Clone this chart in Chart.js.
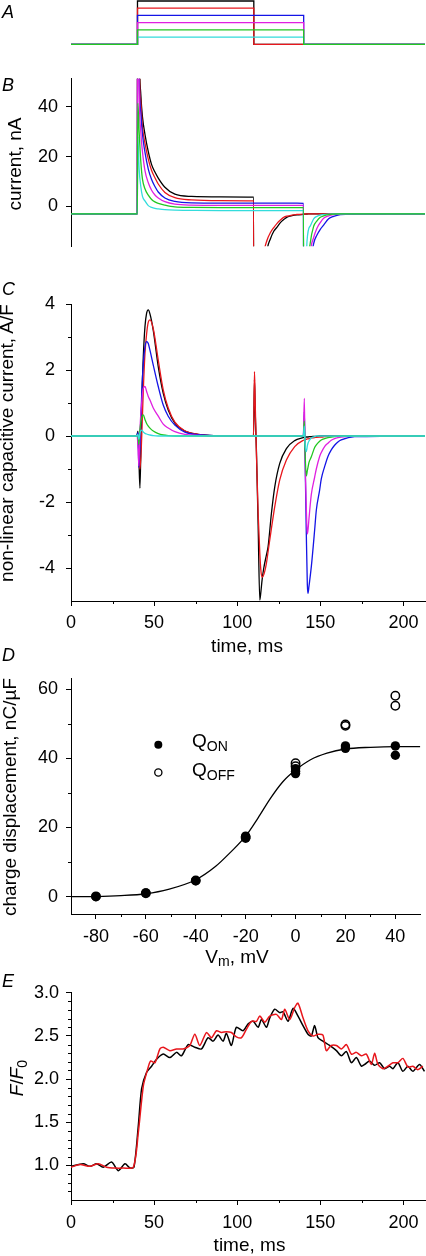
<!DOCTYPE html>
<html>
<head>
<meta charset="utf-8">
<script src="https://cdn.jsdelivr.net/npm/chart.js@4.4.1/dist/chart.umd.min.js"></script>
<style>
  html, body { margin: 0; padding: 0; background: #fff; }
  body { width: 426px; height: 1256px; position: relative; overflow: hidden;
         font-family: "Liberation Sans", Arial, sans-serif; color: #000; }
  canvas { position: absolute; left: 0; }
  .txt { position: absolute; font-size: 19px; white-space: nowrap; line-height: normal; z-index: 2; }
  .rot { transform: translate(-50%, -50%) rotate(-90deg); }
  .hor { transform: translate(-50%, -50%); }
  .letter { position: absolute; left: 2px; font-size: 18px; font-style: italic; line-height: 1; z-index: 2; }
  .leg { position: absolute; left: 192px; font-size: 19px; line-height: 1; white-space: nowrap; z-index: 2; }
  .sb { position: relative; top: 0.25em; font-size: 0.74em; }
</style>
</head>
<body>
<canvas id="chartA" width="426" height="50" style="top:0px"></canvas>
<canvas id="chartB" width="426" height="205" style="top:60px"></canvas>
<canvas id="chartC" width="426" height="387" style="top:270px"></canvas>
<canvas id="chartD" width="426" height="310" style="top:660px"></canvas>
<canvas id="chartE" width="426" height="281" style="top:975px"></canvas>

<div class="letter" style="top:3px">A</div>
<div class="letter" style="top:76px">B</div>
<div class="letter" style="top:280px">C</div>
<div class="letter" style="top:646px">D</div>
<div class="letter" style="top:972px">E</div>

<div class="txt rot" style="left:15px; top:163.5px">current, nA</div>
<div class="txt rot" style="left:7px; top:443px">non-linear capacitive current, A/F</div>
<div class="txt hor" style="left:247px; top:646px">time, ms</div>
<div class="txt rot" style="left:9.5px; top:797px">charge displacement, nC/µF</div>
<div class="txt hor" style="left:237px; top:956.5px">V<span class="sb">m</span>, mV</div>
<div class="txt rot" style="left:17px; top:1077.5px"><i>F</i>/<i>F</i><span class="sb">0</span></div>
<div class="txt hor" style="left:249.5px; top:1245px">time, ms</div>

<div class="leg" style="top:731px">Q<span class="sb">ON</span></div>
<div class="leg" style="top:760px">Q<span class="sb">OFF</span></div>

<script>
  // ---- Panel A: voltage protocol, mV ----
  const tA = [0, 40, 110, 140, 213];
  const aBlack = [-80, 40, -80, -80, -80];
  const aRed = [-80, 20, -80, -80, -80];
  const aBlue = [-80, 0, 0, -80, -80];
  const aMagenta = [-80, -20, -20, -80, -80];
  const aGreen = [-80, -40, -40, -80, -80];
  const aCyan = [-80, -60, -60, -80, -80];

  // ---- Panel B: membrane current, nA ----
  const tB = [0, 39.9, 40.2, 41, 42, 43, 44.5, 46.5, 48.5, 50.5,
              52.5, 56.5, 62.5, 72.5, 90, 109.9, 110.1, 114, 116, 118,
              120, 122, 124, 126, 128, 130, 133, 136, 139.9, 140.1,
              142, 144, 146, 148, 150, 152, 155, 158, 162, 170, 213];
  const bBlack = [-3, -3, 200, 70, 45, 36, 29, 22, 16.8, 13.8,
                  11.4, 7.7, 4.9, 4.0, 3.8, 3.7, -200, -60, -30, -17.5,
                  -13, -10, -8.3, -6.5, -5.3, -4.3, -3.7, -3.4, -3.2, -3.1,
                  -3.05, -3, -3, -3, -3, -3, -3, -3, -3, -3, -3];
  const bRed = [-3, -3, 180, 62, 42, 32, 25.4, 19, 14.4, 11.5,
                9, 5.6, 3.5, 2.6, 2.3, 2.2, -200, -35, -19, -13.5,
                -10.5, -8.5, -6.8, -5.5, -4.4, -3.9, -3.5, -3.2, -3.1, -3.05,
                -3, -3, -3, -3, -3, -3, -3, -3, -3, -3, -3];
  const bBlue = [-3, -3, 150, 55, 38, 29, 21.8, 15, 10.8, 8,
                 5.8, 3.4, 2.0, 1.4, 1.3, 1.3, 1.3, 1.3, 1.3, 1.3,
                 1.3, 1.3, 1.3, 1.3, 1.3, 1.3, 1.3, 1.3, 1.25, -150,
                 -60, -25, -15, -11.5, -9.2, -7.5, -5, -4.0, -3.3, -3.05, -3];
  const bMagenta = [-3, -3, 120, 48, 30, 22, 14.4, 9.5, 6.5, 4.6,
                    3.4, 1.9, 0.9, 0.5, 0.4, 0.4, 0.4, 0.4, 0.4, 0.4,
                    0.4, 0.4, 0.4, 0.4, 0.4, 0.4, 0.4, 0.4, 0.4, -120,
                    -45, -19, -12.5, -8.8, -6.5, -4.8, -3.8, -3.3, -3.1, -3, -3];
  const bGreen = [-3, -3, 41.5, 30, 18, 11, 7.1, 4.5, 2.8, 1.8,
                  1.2, 0.5, -0.2, -0.4, -0.5, -0.5, -0.5, -0.5, -0.5, -0.5,
                  -0.5, -0.5, -0.5, -0.5, -0.5, -0.5, -0.5, -0.5, -0.5, -100,
                  -30, -14.5, -8, -5.8, -4.4, -3.8, -3.3, -3.1, -3, -3, -3];
  const bCyan = [-3, -3, 28, 15, 8, 4, 2.2, 0.3, -0.4, -0.8,
                 -1.0, -1.3, -1.5, -1.6, -1.7, -1.7, -1.7, -1.7, -1.7, -1.7,
                 -1.7, -1.7, -1.7, -1.7, -1.7, -1.7, -1.7, -1.7, -1.7, -80,
                 -14, -7.8, -5, -4, -3.5, -3.3, -3.1, -3, -3, -3, -3];

  // ---- Panel C: non-linear capacitive current, A/F ----
  const tC = [0, 39.5, 40.3, 40.8, 41.5, 42.5, 43.5, 44.5, 45.5, 46.5,
              47.5, 49.5, 52.5, 55.5, 58.5, 62.5, 68.5, 76.5, 86, 109.8,
              110.4, 110.8, 111.6, 112.6, 113.6, 114.3, 115, 116, 117.6, 118.6,
              120.6, 122.6, 125.6, 129.6, 134.6, 139.8, 140.4, 140.8, 141.6, 142.2,
              142.6, 143.2, 144.6, 146.6, 147.6, 149.6, 150.6, 152.6, 154.6, 156.6,
              158.6, 160.6, 162.6, 170.6, 213];
  const cBlack = [0, 0, 0.15, -0.6, -1.58, 0.9, 2.4, 3.31, 3.72, 3.82,
                  3.7, 3.2, 2.1, 1.29, 0.79, 0.39, 0.15, 0.05, 0.01, 0,
                  1.7, 0.8, -0.5, -2.7, -4.97, -4.7, -4.35, -4.0, -3.6, -3.35,
                  -2.34, -1.54, -0.83, -0.38, -0.14, -0.05, -0.04, -0.04, -0.03, -0.03,
                  -0.03, -0.02, -0.02, -0.01, -0.01, 0, 0, 0, 0, 0,
                  0, 0, 0, 0, 0];
  const cRed = [0, 0, 0.05, -0.5, -1.0, -0.1, 1.38, 2.5, 3.1, 3.45,
                3.52, 3.25, 2.3, 1.4, 0.85, 0.42, 0.16, 0.05, 0.01, 0,
                1.95, 1.1, -0.6, -2.34, -3.55, -4.1, -4.28, -4.2, -3.85, -3.5,
                -2.8, -2.14, -1.33, -0.73, -0.32, -0.13, -0.12, -0.11, -0.1, -0.09,
                -0.09, -0.08, -0.06, -0.05, -0.04, -0.03, -0.03, -0.02, -0.01, -0.01,
                0, 0, 0, 0, 0];
  const cBlue = [0, 0, 0.1, -0.95, -0.3, 1.2, 2.2, 2.7, 2.86, 2.8,
                 2.6, 2.15, 1.5, 0.94, 0.6, 0.33, 0.12, 0.04, 0.01, 0,
                 0, 0, 0, 0, 0, 0, 0, 0, 0, 0,
                 0, 0, 0, 0, 0, 0, 0.74, -0.5, -3.0, -4.5,
                 -4.77, -4.55, -3.96, -2.85, -2.25, -1.64, -1.3, -0.93, -0.62, -0.42,
                 -0.28, -0.18, -0.12, -0.02, 0];
  const cMagenta = [0, 0, -0.3, -0.9, 0.2, 1.0, 1.45, 1.5, 1.35, 1.2,
                    1.09, 0.85, 0.6, 0.36, 0.24, 0.13, 0.05, 0.02, 0, 0,
                    0, 0, 0, 0, 0, 0, 0, 0, 0, 0,
                    0, 0, 0, 0, 0, 0, 1.14, -0.5, -2.2, -2.97,
                    -2.85, -2.5, -1.77, -1.25, -1.0, -0.62, -0.5, -0.32, -0.22, -0.13,
                    -0.08, -0.05, -0.03, 0, 0];
  const cGreen = [0, 0, 0, -0.25, 0.2, 0.55, 0.64, 0.5, 0.38, 0.3,
                  0.24, 0.15, 0.07, 0.03, 0.01, 0, 0, 0, 0, 0,
                  0, 0, 0, 0, 0, 0, 0, 0, 0, 0,
                  0, 0, 0, 0, 0, 0, 0.45, -0.4, -1.21, -1.05,
                  -0.95, -0.8, -0.63, -0.35, -0.27, -0.16, -0.12, -0.08, -0.05, -0.03,
                  -0.02, 0, 0, 0, 0];
  const cCyan = [0, 0, 0.05, -0.1, 0.1, 0.18, 0.12, 0.08, 0.06, 0.04,
                 0.03, 0.01, 0, 0, 0, 0, 0, 0, 0, 0,
                 0, 0, 0, 0, 0, 0, 0, 0, 0, 0,
                 0, 0, 0, 0, 0, 0, 0.3, -0.2, -0.47, -0.3,
                 -0.22, -0.15, -0.06, -0.02, 0, 0, 0, 0, 0, 0,
                 0, 0, 0, 0, 0];

  // ---- Panel D: charge vs voltage ----
  const qonV = [-80, -60, -40, -20, -20, 0, 0, 0, 20, 20, 40, 40];
  const qonQ = [0, 1.1, 4.6, 17.5, 16.9, 37.0, 36.3, 35.6, 43.6, 42.9, 43.6, 40.9];
  const qoffV = [-80, -60, -40, -20, 0, 0, 20, 20, 40, 40];
  const qoffQ = [0.1, 1.0, 4.7, 17.2, 38.6, 37.7, 49.8, 49.4, 58.1, 55.2];
  const fitV = [-90, -80, -70, -60, -51, -40, -32, -26, -20, -15, -10, -5, 0, 6, 12.6, 20, 30, 40, 50];
  const fitQ = [0, 0.05, 0.3, 0.85, 2.1, 4.9, 8.8, 12.9, 17.5, 22.8, 28.5, 33.3, 36.6, 39.6, 41.5, 42.7, 43.2, 43.4, 43.4];

  // ---- Panel E: fluorescence F/F0 ----
  const eBlackT = [0, 7.4, 11.4, 15.4, 19.4, 24.4, 28.4, 32.5, 35.5, 37.9,
                   40.5, 42.5, 45.5, 48.5, 51.5, 55.5, 59.5, 63.5, 66.5, 70.5,
                   74.5, 78.5, 82.5, 85.5, 88.5, 91.5, 93.5, 96.5, 99.5, 103.5,
                   106.6, 109.6, 112.6, 114.6, 117.6, 119.6, 122.6, 125.6, 127.6, 130.6,
                   133.6, 136.6, 139.6, 142.6, 144.6, 146.6, 148.6, 151.6, 155.6, 159.7,
                   162.7, 165.7, 168.7, 171.7, 174.7, 176.7, 179.7, 182.7, 185.7, 188.7,
                   191.7, 193.7, 196.7, 199.7, 202.7, 205.7, 209.7, 212.7];
  const eBlackF = [0.99, 1.02, 0.99, 1.02, 0.98, 1.04, 0.94, 1.02, 0.97, 0.98,
                   1.46, 1.89, 2.08, 2.15, 2.23, 2.29, 2.25, 2.31, 2.27, 2.40,
                   2.37, 2.35, 2.48, 2.44, 2.51, 2.44, 2.53, 2.39, 2.60, 2.56,
                   2.64, 2.67, 2.60, 2.69, 2.60, 2.71, 2.81, 2.77, 2.78, 2.67,
                   2.82, 2.73, 2.62, 2.52, 2.50, 2.62, 2.48, 2.44, 2.39, 2.33,
                   2.27, 2.32, 2.19, 2.25, 2.15, 2.17, 2.21, 2.16, 2.19, 2.12,
                   2.15, 2.12, 2.19, 2.09, 2.15, 2.09, 2.17, 2.09];
  const eRedT = [0, 5.4, 11.4, 16.4, 21.4, 26.4, 31.4, 37.5, 40.5, 43.5,
                 45.9, 47.9, 50.5, 53.5, 55.5, 59.5, 63.5, 67.5, 71.5, 74.5,
                 77.5, 81.5, 84.5, 87.5, 90.5, 93.5, 96.5, 99.5, 102.6, 105.6,
                 108.6, 111.6, 113.6, 116.6, 119.6, 123.6, 126.6, 128.6, 131.6, 134.6,
                 136.6, 139.6, 142.6, 145.6, 148.6, 151.6, 153.6, 156.6, 159.7, 162.7,
                 165.7, 168.7, 171.7, 174.7, 177.7, 180.7, 182.7, 184.7, 187.7, 190.7,
                 193.7, 196.7, 199.7, 202.7, 205.7, 208.7, 211.7];
  const eRedF = [0.98, 1.01, 0.99, 1.02, 0.98, 0.97, 0.97, 0.98, 1.38, 1.92,
                 2.10, 2.21, 2.19, 2.35, 2.37, 2.33, 2.35, 2.35, 2.39, 2.52,
                 2.39, 2.54, 2.48, 2.56, 2.54, 2.55, 2.54, 2.49, 2.48, 2.58,
                 2.67, 2.67, 2.73, 2.66, 2.73, 2.75, 2.69, 2.81, 2.69, 2.83,
                 2.88, 2.71, 2.56, 2.50, 2.52, 2.51, 2.33, 2.39, 2.39, 2.35,
                 2.40, 2.29, 2.31, 2.27, 2.29, 2.17, 2.30, 2.17, 2.12, 2.15,
                 2.19, 2.19, 2.24, 2.14, 2.15, 2.11, 2.15];

  // ---- tick values ----
  const timeTicks = [0, 50, 100, 150, 200];
  const timeMinor = [25, 75, 125, 175];
  const bTicks = [0, 20, 40];
  const cTicks = [-4, -2, 0, 2, 4];
  const cMinor = [-3, -1, 1, 3];
  const dxTicks = [-80, -60, -40, -20, 0, 20, 40];
  const dxMinor = [-70, -50, -30, -10, 10, 30];
  const dyTicks = [0, 20, 40, 60];
  const dyMinor = [10, 30, 50];
  const eTicks = [1.0, 1.5, 2.0, 2.5, 3.0];
  const eMinor = [0.7, 0.8, 0.9, 1.1, 1.2, 1.3, 1.4, 1.6, 1.7, 1.8, 1.9,
                  2.1, 2.2, 2.3, 2.4, 2.6, 2.7, 2.8, 2.9];

  const COLORS = {
    black: '#000000', red: '#e8161c', blue: '#1414e6',
    magenta: '#e020e0', green: '#22c822', cyan: '#33dcdc'
  };

  Chart.defaults.font.family = '"Liberation Sans", Arial, sans-serif';
  Chart.defaults.font.size = 18;
  Chart.defaults.color = '#000';
  Chart.defaults.animation = false;
  Chart.defaults.responsive = false;
  Chart.defaults.plugins.legend.display = false;
  Chart.defaults.plugins.tooltip.enabled = false;

  // zip two arrays into {x, y} points
  function pts(xs, ys) {
    return xs.map((x, i) => ({ x: x, y: ys[i] }));
  }

  function trace(xs, ys, color, extra) {
    return Object.assign({
      data: pts(xs, ys),
      borderColor: color,
      backgroundColor: color,
      borderWidth: 1.3,
      showLine: true,
      pointRadius: 0,
      cubicInterpolationMode: 'monotone'
    }, extra || {});
  }

  // small minor tick marks, drawn with the chart's own scales
  const minorTicks = {
    id: 'minorTicks',
    afterDraw(chart, args, opts) {
      const ctx = chart.ctx;
      ctx.save();
      ctx.strokeStyle = '#000';
      ctx.lineWidth = 1;
      const sx = chart.scales.x, sy = chart.scales.y;
      (opts.x || []).forEach(v => {
        const px = Math.round(sx.getPixelForValue(v)) + 0.5;
        ctx.beginPath();
        ctx.moveTo(px, sx.top);
        ctx.lineTo(px, sx.top + 3);
        ctx.stroke();
      });
      (opts.y || []).forEach(v => {
        const py = Math.round(sy.getPixelForValue(v)) + 0.5;
        ctx.beginPath();
        ctx.moveTo(sy.right, py);
        ctx.lineTo(sy.right - 3, py);
        ctx.stroke();
      });
      ctx.restore();
    }
  };

  // legend symbols for panel D
  const qLegend = {
    id: 'qLegend',
    afterDatasetsDraw(chart, args, opts) {
      const ctx = chart.ctx, sx = chart.scales.x, sy = chart.scales.y;
      (opts.items || []).forEach(it => {
        ctx.save();
        ctx.beginPath();
        ctx.arc(sx.getPixelForValue(it.x), sy.getPixelForValue(it.y), it.r, 0, Math.PI * 2);
        if (it.filled) {
          ctx.fillStyle = '#000';
          ctx.fill();
        } else {
          ctx.lineWidth = 1.3;
          ctx.strokeStyle = '#000';
          ctx.stroke();
        }
        ctx.restore();
      });
    }
  };

  function axisY(min, max, ticks, pad, fmt) {
    return {
      type: 'linear', min: min, max: max,
      afterFit: s => { s.width = 71; },
      afterBuildTicks: s => { s.ticks = ticks.map(v => ({ value: v })); },
      border: { display: true, color: '#000', width: 1 },
      grid: { display: true, drawOnChartArea: false, drawTicks: true, tickLength: 5, color: '#000' },
      ticks: { padding: pad, autoSkip: false, color: '#000',
               callback: fmt || (v => String(v)) }
    };
  }

  function axisX(min, max, ticks, pad) {
    return {
      type: 'linear', min: min, max: max,
      afterFit: s => { s.height = 56; },
      afterBuildTicks: s => { s.ticks = ticks.map(v => ({ value: v })); },
      border: { display: true, color: '#000', width: 1 },
      grid: { display: true, drawOnChartArea: false, drawTicks: true, tickLength: 5, color: '#000' },
      ticks: { padding: pad, autoSkip: false, maxRotation: 0, color: '#000',
               callback: v => String(v) }
    };
  }

  // Panel A
  new Chart(document.getElementById('chartA'), {
    type: 'scatter',
    data: {
      datasets: [
        trace(tA, aGreen, COLORS.green, { stepped: true, clip: false }),
        trace(tA, aCyan, COLORS.cyan, { stepped: true, clip: false }),
        trace(tA, aMagenta, COLORS.magenta, { stepped: true, clip: false }),
        trace(tA, aBlue, COLORS.blue, { stepped: true, clip: false }),
        trace(tA, aRed, COLORS.red, { stepped: true, clip: false }),
        trace(tA, aBlack, COLORS.black, { stepped: true, clip: false })
      ]
    },
    options: {
      layout: { padding: { left: 71, right: 1, top: 1, bottom: 5.7 } },
      scales: {
        x: { type: 'linear', min: 0, max: 213, display: false },
        y: { type: 'linear', min: -80, max: 40, display: false }
      }
    }
  });

  // Panel B
  new Chart(document.getElementById('chartB'), {
    type: 'scatter',
    data: {
      datasets: [
        trace(tB, bGreen, COLORS.green),
        trace(tB, bCyan, COLORS.cyan),
        trace(tB, bMagenta, COLORS.magenta),
        trace(tB, bBlue, COLORS.blue),
        trace(tB, bRed, COLORS.red),
        trace(tB, bBlack, COLORS.black)
      ]
    },
    options: {
      layout: { padding: { left: 0, right: 1, top: 16, bottom: 6 } },
      scales: {
        x: { type: 'linear', min: 0, max: 213, display: false },
        y: axisY(-16, 51.3, bTicks, 8)
      }
    }
  });

  // Panel C
  new Chart(document.getElementById('chartC'), {
    type: 'scatter',
    data: {
      datasets: [
        trace(tC, cCyan, COLORS.cyan),
        trace(tC, cGreen, COLORS.green),
        trace(tC, cMagenta, COLORS.magenta),
        trace(tC, cBlue, COLORS.blue),
        trace(tC, cRed, COLORS.red),
        trace(tC, cBlack, COLORS.black)
      ]
    },
    options: {
      layout: { padding: { left: 0, right: 1, top: 34, bottom: 0 } },
      scales: {
        x: axisX(0, 213, timeTicks, 6),
        y: axisY(-5, 4, cTicks, 11)
      },
      plugins: { minorTicks: { x: timeMinor, y: cMinor } }
    },
    plugins: [minorTicks]
  });

  // Panel D
  new Chart(document.getElementById('chartD'), {
    type: 'scatter',
    data: {
      datasets: [
        { data: pts(qonV, qonQ), showLine: false, pointRadius: 4.7,
          pointBackgroundColor: '#000', pointBorderColor: '#000', pointBorderWidth: 0 },
        { data: pts(qoffV, qoffQ), showLine: false, pointRadius: 4.2,
          pointBackgroundColor: 'rgba(255,255,255,0)', pointBorderColor: '#000', pointBorderWidth: 1.5 },
        trace(fitV, fitQ, '#000')
      ]
    },
    options: {
      layout: { padding: { left: 0, right: 1, top: 13, bottom: 0 } },
      scales: {
        x: axisX(-90, 50, dxTicks, 7),
        y: axisY(-5, 63, dyTicks, 8)
      },
      plugins: {
        minorTicks: { x: dxMinor, y: dyMinor },
        qLegend: { items: [
          { x: -55, y: 43.9, r: 4, filled: true },
          { x: -55, y: 35.9, r: 3.6, filled: false }
        ] }
      }
    },
    plugins: [minorTicks, qLegend]
  });

  // Panel E
  new Chart(document.getElementById('chartE'), {
    type: 'scatter',
    data: {
      datasets: [
        trace(eRedT, eRedF, COLORS.red, { cubicInterpolationMode: 'default', tension: 0.25, borderWidth: 1.5 }),
        trace(eBlackT, eBlackF, COLORS.black, { cubicInterpolationMode: 'default', tension: 0.25, borderWidth: 1.5 })
      ]
    },
    options: {
      layout: { padding: { left: 0, right: 1, top: 16.7, bottom: 0 } },
      scales: {
        x: axisX(0, 213, timeTicks, 7),
        y: axisY(0.6, 3.0, eTicks, 7, v => v.toFixed(1))
      },
      plugins: { minorTicks: { x: timeMinor, y: eMinor } }
    },
    plugins: [minorTicks]
  });
</script>
</body>
</html>
